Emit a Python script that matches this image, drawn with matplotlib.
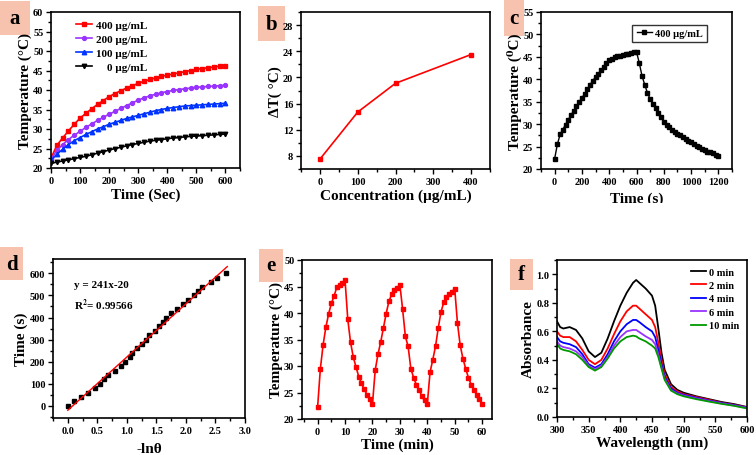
import numpy as np
import matplotlib
matplotlib.use('Agg')
import matplotlib.pyplot as plt
from matplotlib.patches import Rectangle
from matplotlib.ticker import AutoMinorLocator, MultipleLocator

plt.rcParams['font.family'] = ['Liberation Serif', 'DejaVu Serif']
plt.rcParams['font.weight'] = 'bold'
plt.rcParams['axes.labelweight'] = 'bold'
plt.rcParams['mathtext.fontset'] = 'stix'

## panel a : heating curves
time_a = np.arange(0, 601, 20)
temp_400 = [22.5, 25.8, 27.7, 29.5, 31.2, 32.8, 34.0, 35.2, 36.3, 37.3, 38.3, 39.1, 39.8, 40.5, 41.1, 41.7,
            42.2, 42.7, 43.1, 43.5, 43.8, 44.1, 44.4, 44.7, 45.0, 45.3, 45.5, 45.7, 45.9, 46.1, 46.2]
temp_200 = [22.3, 24.5, 26.0, 27.3, 28.4, 29.4, 30.4, 31.3, 32.2, 33.0, 33.8, 34.5, 35.3, 36.0, 36.7, 37.4,
            38.0, 38.5, 38.9, 39.3, 39.6, 39.9, 40.1, 40.3, 40.5, 40.7, 40.8, 40.9, 41.0, 41.1, 41.2]
temp_100 = [22.0, 23.5, 24.8, 26.0, 27.0, 27.8, 28.6, 29.3, 30.0, 30.6, 31.2, 31.7, 32.2, 32.7, 33.1, 33.5,
            33.9, 34.3, 34.7, 35.0, 35.3, 35.5, 35.7, 35.9, 36.0, 36.1, 36.2, 36.3, 36.4, 36.5, 36.6]
temp_0 = [21.2, 21.5, 21.8, 22.1, 22.4, 22.7, 23.0, 23.4, 23.8, 24.2, 24.6, 25.0, 25.3, 25.7, 26.0, 26.3,
          26.6, 26.9, 27.1, 27.3, 27.5, 27.7, 27.8, 28.0, 28.1, 28.2, 28.3, 28.4, 28.5, 28.6, 28.7]

## panel b
conc = [0, 100, 200, 400]
delta_t = [7.5, 14.7, 19.1, 23.5]

## panel c : heating / cooling
time_c = np.arange(0, 1201, 20)
temp_c = [22.3, 25.5, 27.7, 28.8, 29.9, 31.0, 32.0, 33.0, 34.0, 35.0, 35.8, 36.8, 37.8, 38.8, 39.7, 40.5,
          41.2, 42.0, 42.8, 43.6, 44.3, 44.6, 44.9, 45.1, 45.3, 45.5, 45.6, 45.7, 45.9, 46.0, 46.1,
          43.7, 40.8, 38.8, 37.0, 35.6, 34.5, 33.5, 32.5, 31.5, 30.5, 29.8, 29.3, 28.7, 28.3, 27.9,
          27.5, 27.1, 26.7, 26.3, 26.0, 25.6, 25.2, 24.8, 24.5, 24.2, 23.9, 23.7, 23.5, 23.2, 23.0]

## panel d : -ln(theta) vs time
neg_ln_theta = [0.0, 0.1, 0.23, 0.35, 0.46, 0.55, 0.62, 0.68, 0.8, 0.9, 0.97, 1.05, 1.08, 1.18, 1.25, 1.32,
                1.38, 1.47, 1.55, 1.62, 1.66, 1.75, 1.85, 1.95, 2.03, 2.14, 2.2, 2.28, 2.42, 2.52, 2.68]
time_d = np.arange(0, 601, 20)
fit_slope, fit_icpt = 241, -20

## panel e : cycles
time_e = np.arange(0, 61)
temp_e = [22.3, 29.5, 34.0, 37.3, 39.8, 41.8, 43.2, 44.9, 45.3, 45.7, 46.2,
          38.8, 34.5, 31.7, 29.8, 28.0, 26.7, 25.6, 24.6, 23.8, 22.8,
          29.2, 32.2, 34.5, 37.2, 39.9, 42.2, 43.5, 44.3, 44.8, 45.3,
          40.7, 35.6, 33.7, 29.5, 27.8, 26.5, 25.5, 24.3, 23.5, 22.8,
          28.8, 31.2, 33.7, 37.2, 40.2, 42.0, 43.1, 43.6, 44.0, 44.6,
          38.1, 33.9, 31.4, 29.5, 27.8, 26.5, 25.5, 24.6, 23.8, 22.9]

## panel f : absorbance
wl = [300, 305, 310, 320, 330, 340, 350, 360, 370, 380, 390, 400, 410, 420, 425, 430, 440, 450, 455,
      460, 465, 470, 480, 490, 500, 520, 540, 560, 580, 600]
abs_0 = [0.67, 0.63, 0.62, 0.63, 0.61, 0.55, 0.46, 0.42, 0.45, 0.55, 0.67, 0.78, 0.87, 0.94, 0.96, 0.94,
         0.90, 0.85, 0.78, 0.62, 0.45, 0.33, 0.23, 0.19, 0.17, 0.145, 0.125, 0.105, 0.09, 0.07]
abs_2 = [0.60, 0.57, 0.56, 0.56, 0.53, 0.47, 0.40, 0.37, 0.40, 0.48, 0.58, 0.67, 0.74, 0.78, 0.78, 0.76,
         0.72, 0.68, 0.63, 0.52, 0.40, 0.30, 0.21, 0.18, 0.16, 0.14, 0.12, 0.10, 0.085, 0.068]
abs_4 = [0.56, 0.53, 0.52, 0.51, 0.49, 0.44, 0.37, 0.345, 0.37, 0.44, 0.53, 0.60, 0.65, 0.68, 0.68, 0.665,
         0.63, 0.60, 0.56, 0.47, 0.37, 0.28, 0.20, 0.17, 0.155, 0.135, 0.115, 0.098, 0.083, 0.066]
abs_6 = [0.53, 0.50, 0.49, 0.48, 0.46, 0.42, 0.36, 0.335, 0.36, 0.42, 0.50, 0.56, 0.60, 0.61, 0.61, 0.595,
         0.565, 0.54, 0.51, 0.44, 0.35, 0.27, 0.19, 0.165, 0.15, 0.13, 0.112, 0.095, 0.08, 0.064]
abs_10 = [0.51, 0.48, 0.47, 0.46, 0.44, 0.40, 0.35, 0.325, 0.35, 0.41, 0.48, 0.53, 0.56, 0.57, 0.565, 0.55,
          0.53, 0.50, 0.48, 0.42, 0.34, 0.26, 0.185, 0.16, 0.145, 0.125, 0.108, 0.092, 0.078, 0.06]

W, H = 756, 456
fig = plt.figure(figsize=(W/100, H/100), dpi=100)

def box(l, t, r, b):
    return [l/W, 1-b/H, (r-l)/W, (b-t)/H]

def style(ax):
    ax.tick_params(which='both', direction='out', labelsize=7.5, width=1, pad=2, top=False, right=False)
    ax.tick_params(which='major', length=3.5)
    ax.tick_params(which='minor', length=2)
    ax.xaxis.set_minor_locator(AutoMinorLocator(2))
    ax.yaxis.set_minor_locator(AutoMinorLocator(2))
    for s in ax.spines.values():
        s.set_linewidth(1.2)

def tag(l, t, r, b, letter):
    fig.patches.append(Rectangle((l/W, 1-b/H), (r-l)/W, (b-t)/H, transform=fig.transFigure,
                                 fc='#f8c3ae', ec='none', zorder=-2))
    fig.text((l+r)/2/W, 1-(t+b)/2/H, letter, ha='center', va='center', fontsize=15,
             fontweight='bold', zorder=-1)

LBL = 11

# a
ax = fig.add_axes(box(51, 13, 240, 169))
ax.plot(time_a, temp_400, '-s', color='#ff0000', ms=3.2, lw=1.2, label='400 µg/mL')
ax.plot(time_a, temp_200, '-o', color='#9933ff', ms=2.8, lw=1.2, label='200 µg/mL')
ax.plot(time_a, temp_100, '-^', color='#0033ff', ms=3.2, lw=1.2, label='100 µg/mL')
ax.plot(time_a, temp_0, '-v', color='#000000', ms=3.2, lw=1.2, label='    0 µg/mL')
ax.set_xlim(0, 650)
ax.set_ylim(20, 60)
ax.xaxis.set_major_locator(MultipleLocator(100))
ax.yaxis.set_major_locator(MultipleLocator(5))
ax.set_xlabel('Time (Sec)', fontsize=LBL, labelpad=2)
ax.set_ylabel('Temperature (°C)', fontsize=LBL, labelpad=1)
ax.legend(loc='upper left', frameon=False, fontsize=8, handlelength=1.5, handletextpad=0.3,
          labelspacing=0.4, borderaxespad=0.3, bbox_to_anchor=(0.09, 1.0))
style(ax)
tag(0, 2, 30, 36, 'a')

# b
ax = fig.add_axes(box(301, 13, 490, 170))
ax.plot(conc, delta_t, '-s', color='#ff0000', ms=3.5, lw=1.2)
ax.set_xlim(-50, 450)
ax.set_ylim(6, 30)
ax.xaxis.set_major_locator(MultipleLocator(100))
ax.yaxis.set_major_locator(MultipleLocator(4))
ax.set_xlabel('Concentration (µg/mL)', fontsize=LBL, labelpad=2)
ax.set_ylabel('ΔT( °C)', fontsize=LBL, labelpad=1)
style(ax)
tag(258, 7, 285, 42, 'b')

# c
ax = fig.add_axes(box(541, 13, 732, 170))
ax.plot(time_c, temp_c, '-s', color='#000000', ms=2.8, lw=1, label='400 µg/mL')
ax.set_xlim(-100, 1300)
ax.set_ylim(20, 55)
ax.xaxis.set_major_locator(MultipleLocator(200))
ax.yaxis.set_major_locator(MultipleLocator(5))
ax.set_xlabel('Time (s)', fontsize=LBL, labelpad=4)
ax.set_ylabel('Temperature (⁰C)', fontsize=LBL, labelpad=1)
ax.legend(loc='upper right', frameon=True, fancybox=False, edgecolor='black', fontsize=7.5,
          handlelength=1.5, handletextpad=0.3, borderaxespad=0.0, bbox_to_anchor=(0.87, 0.92))
style(ax)
tag(504, 0, 524, 37, 'c')
fig.patches.append(Rectangle((504/W, 1-228/H), 252/W, 24/H, transform=fig.transFigure,
                             fc='white', ec='none', zorder=5))

# d
ax = fig.add_axes(box(53, 260, 245, 419))
ax.plot(neg_ln_theta, time_d, 's', color='#000000', ms=3.2)
xf = np.array([0.0, 2.7])
ax.plot(xf, fit_slope*xf + fit_icpt, '-', color='#ff0000', lw=1)
ax.text(0.1, 540, 'y = 241x-20', fontsize=8, fontweight='bold')
ax.text(0.1, 440, 'R$^{\\mathbf{2}}$= 0.99566', fontsize=8, fontweight='bold')
ax.set_xlim(-0.25, 3.0)
ax.set_ylim(-55, 665)
ax.xaxis.set_major_locator(MultipleLocator(0.5))
ax.yaxis.set_major_locator(MultipleLocator(100))
ax.set_xlabel('-lnθ', fontsize=LBL, labelpad=5)
ax.set_ylabel('Time (s)', fontsize=LBL, labelpad=1)
style(ax)
tag(0, 248, 23, 281, 'd')

# e
ax = fig.add_axes(box(302, 261, 492, 420))
ax.plot(time_e, temp_e, '-s', color='#ff0000', ms=3.5, lw=1.2)
ax.set_xlim(-5.7, 63.6)
ax.set_ylim(20, 50)
ax.xaxis.set_major_locator(MultipleLocator(10))
ax.yaxis.set_major_locator(MultipleLocator(5))
ax.set_xlabel('Time (min)', fontsize=LBL, labelpad=1)
ax.set_ylabel('Temperature (°C)', fontsize=LBL, labelpad=1)
style(ax)
tag(259, 250, 283, 283, 'e')

# f
ax = fig.add_axes(box(557, 261, 747, 418))
ax.plot(wl, abs_0, color='#000000', lw=1.3, label='0 min')
ax.plot(wl, abs_2, color='#ff0000', lw=1.3, label='2 min')
ax.plot(wl, abs_4, color='#0000ff', lw=1.3, label='4 min')
ax.plot(wl, abs_6, color='#9933ff', lw=1.3, label='6 min')
ax.plot(wl, abs_10, color='#009900', lw=1.3, label='10 min')
ax.set_xlim(300, 600)
ax.set_ylim(0, 1.1)
ax.xaxis.set_major_locator(MultipleLocator(50))
ax.yaxis.set_major_locator(MultipleLocator(0.2))
ax.set_xlabel('Wavelength (nm)', fontsize=LBL, labelpad=1)
ax.set_ylabel('Absorbance', fontsize=LBL, labelpad=1)
ax.legend(loc='upper right', frameon=False, fontsize=7.5, handlelength=1.5, handletextpad=0.3,
          labelspacing=0.4, borderaxespad=0.3)
style(ax)
tag(510, 260, 533, 291, 'f')

fig.savefig('out.png', dpi=100)
